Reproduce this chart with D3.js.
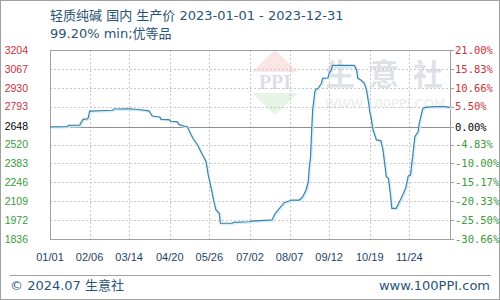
<!DOCTYPE html>
<html><head><meta charset="utf-8">
<script src="https://cdn.jsdelivr.net/npm/d3@7"></script>
<style>
html,body{margin:0;padding:0;background:#fff;}
svg{display:block;}
</style></head>
<body><svg id="c" width="500" height="300"></svg>
<script>
// ---- data ----
const dates = ["2023-01-01","2023-01-17","2023-01-18","2023-01-28","2023-01-31","2023-02-04","2023-02-05","2023-02-06","2023-02-27","2023-02-28","2023-03-14","2023-03-20","2023-04-01","2023-04-04","2023-04-11","2023-04-12","2023-04-19","2023-04-21","2023-04-27","2023-04-28","2023-05-03","2023-05-06","2023-05-08","2023-05-11","2023-05-15","2023-05-19","2023-05-23","2023-05-25","2023-05-28","2023-05-30","2023-06-01","2023-06-04","2023-06-05","2023-06-16","2023-06-17","2023-07-01","2023-07-03","2023-07-22","2023-07-25","2023-07-28","2023-08-02","2023-08-09","2023-08-16","2023-08-19","2023-08-22","2023-08-24","2023-08-25","2023-08-26","2023-08-27","2023-08-28","2023-08-30","2023-08-31","2023-09-02","2023-09-05","2023-09-06","2023-09-11","2023-09-12","2023-09-14","2023-09-15","2023-10-05","2023-10-07","2023-10-08","2023-10-11","2023-10-14","2023-10-16","2023-10-18","2023-10-19","2023-10-20","2023-10-22","2023-10-25","2023-10-29","2023-10-31","2023-11-03","2023-11-05","2023-11-07","2023-11-08","2023-11-12","2023-11-15","2023-11-18","2023-11-21","2023-11-23","2023-11-25","2023-11-27","2023-11-29","2023-12-02","2023-12-03","2023-12-06","2023-12-08","2023-12-17","2023-12-26","2023-12-31"];
const prices = [2648,2650,2658,2660,2702,2705,2717,2762,2768,2777,2778,2775,2764,2726,2719,2702,2700,2688,2684,2666,2653,2649,2613,2565,2520,2456,2396,2299,2191,2110,2046,2022,1950,1950,1957,1961,1966,1974,2022,2051,2099,2118,2118,2142,2191,2251,2359,2420,2601,2770,2902,2920,2927,2963,2999,3003,3035,3059,3092,3092,3059,2999,2987,2963,2914,2818,2757,2721,2625,2553,2548,2481,2287,2275,2142,2058,2058,2106,2155,2215,2292,2299,2432,2577,2613,2673,2775,2789,2794,2794,2789];
const leftTicks = [3204,3067,2930,2793,2648,2520,2383,2246,2109,1972,1836];
const rightTicks = [21.00,15.83,10.66,5.50,0.00,-4.83,-10.00,-15.17,-20.33,-25.50,-30.66];
const xTickLabels = ["01/01","02/06","03/14","04/20","05/26","07/02","08/07","09/12","10/19","11/24"];
const basePrice = 2648;
const title1 = "轻质纯碱 国内 生产价 2023-01-01 - 2023-12-31";
const title2 = "99.20% min;优等品";

// ---- layout ----
const L = 50, R = 450, T = 50, B = 239;
const svg = d3.select("#c");
const parse = d3.timeParse("%Y-%m-%d");
const data = dates.map((d,i)=>({date:parse(d), v:prices[i]}));
const x = d3.scaleTime().domain([parse("2023-01-01"), parse("2023-12-31")]).range([L, R]);
const y = d3.scaleLinear().domain([1836, 3204]).range([B, T]);
const yp = d3.scaleLinear().domain([-30.66, 21]).range([B, T]);
const xTickDates = xTickLabels.map(s => parse("2023-" + s.replace("/","-")));

// outer border
svg.append("rect").attr("x",0.5).attr("y",0.5).attr("width",499).attr("height",299)
  .attr("fill","#fff").attr("stroke","#a0a0a0");

// watermark
const wm = svg.append("g").attr("opacity",0.28);
wm.append("path").attr("d", `M275,50 L298,72 L252,72 Z`).attr("fill","#f2a6a6");
wm.append("path").attr("d", `M252,93 L298,93 L275,115 Z`).attr("fill","#a8d8a8");
wm.append("text").attr("x",275).attr("y",89).attr("text-anchor","middle")
  .attr("font-family","Liberation Serif").attr("font-weight","bold").attr("font-size",20)
  .attr("fill","#7a8fb0").text("PPI");
["生","意","社"].forEach((c,i)=>{
  wm.append("text").attr("x",340+i*44).attr("y",85).attr("text-anchor","middle")
    .attr("font-family","Noto Sans CJK SC").attr("font-weight","bold").attr("font-size",30)
    .attr("fill","#8a9aaa").text(c);
});
wm.append("text").attr("x",385).attr("y",108).attr("text-anchor","middle")
  .attr("font-family","DejaVu Sans").attr("font-size",13).attr("fill","#b0b8c0")
  .text("WWW.100PPI.COM");

// grid horizontal
svg.append("g").selectAll("line").data(rightTicks.filter(p=>p!==0 && p!==21 && p!==-30.66)).join("line")
  .attr("x1",L).attr("x2",R).attr("y1",d=>Math.round(yp(d))+0.5).attr("y2",d=>Math.round(yp(d))+0.5)
  .attr("stroke","#c8c8c8").attr("stroke-dasharray","2,2");
// grid vertical
svg.append("g").selectAll("line").data(xTickDates.slice(1)).join("line")
  .attr("x1",d=>Math.round(x(d))+0.5).attr("x2",d=>Math.round(x(d))+0.5).attr("y1",T).attr("y2",B)
  .attr("stroke","#c8c8c8").attr("stroke-dasharray","2,2");
// base line
svg.append("line").attr("x1",L).attr("x2",R)
  .attr("y1",Math.round(y(basePrice))+0.5).attr("y2",Math.round(y(basePrice))+0.5)
  .attr("stroke","#909090");

// plot border
svg.append("rect").attr("x",L+0.5).attr("y",T+0.5).attr("width",R-L).attr("height",B-T)
  .attr("fill","none").attr("stroke","#a0a0a0");

// right tick marks
svg.append("g").selectAll("line").data(rightTicks).join("line")
  .attr("x1",R).attr("x2",R+4).attr("y1",d=>Math.round(yp(d))+0.5).attr("y2",d=>Math.round(yp(d))+0.5)
  .attr("stroke","#a0a0a0");

// line
const line = d3.line().x(d=>x(d.date)).y(d=>y(d.v));
svg.append("path").datum(data).attr("d",line).attr("fill","none")
  .attr("stroke","#d4f0fb").attr("stroke-width",2).attr("transform","translate(1,1)");
svg.append("path").datum(data).attr("d",line).attr("fill","none")
  .attr("stroke","#3f81a8").attr("stroke-width",1.2);

// left labels
const colorFor = v => v > 0 ? "#c8323c" : (v < 0 ? "#3a9a3a" : "#000");
svg.append("g").selectAll("text").data(leftTicks).join("text")
  .attr("x",28).attr("y",d=>y(d)).attr("dy","0.35em").attr("text-anchor","end")
  .attr("font-family","Liberation Sans").attr("font-size",10.5)
  .attr("fill",d=>colorFor(d-basePrice)).text(d=>d);
// right labels
svg.append("g").selectAll("text").data(rightTicks).join("text")
  .attr("x",455).attr("y",d=>yp(d)).attr("dy","0.35em")
  .attr("font-family","DejaVu Sans Mono").attr("font-size",10.5)
  .attr("fill",d=>colorFor(d)).text(d=>d.toFixed(2)+"%");
// x labels
svg.append("g").selectAll("text").data(xTickDates).join("text")
  .attr("x",d=>x(d)).attr("y",260.5).attr("text-anchor","middle")
  .attr("font-family","Liberation Sans").attr("font-size",11)
  .attr("fill","#1f3f5f").text((d,i)=>xTickLabels[i]);

// titles
const tf = "'DejaVu Sans','Noto Sans CJK SC'";
svg.append("text").attr("x",50).attr("y",19.5).attr("font-family",tf).attr("font-size",13)
  .attr("fill","#2a5475").text(title1);
svg.append("text").attr("x",50).attr("y",37.5).attr("font-family",tf).attr("font-size",13)
  .attr("fill","#2a5475").text(title2);

// footer
svg.append("line").attr("x1",10).attr("x2",491).attr("y1",275.5).attr("y2",275.5).attr("stroke","#a0a0a0");
svg.append("text").attr("x",10).attr("y",290).attr("font-family",tf).attr("font-size",13)
  .attr("fill","#2a5475").text("© 2024.07 生意社");
svg.append("text").attr("x",490).attr("y",290).attr("text-anchor","end").attr("font-family",tf).attr("font-size",13)
  .attr("fill","#2a5475").text("www.100PPI.com");
</script></body></html>
